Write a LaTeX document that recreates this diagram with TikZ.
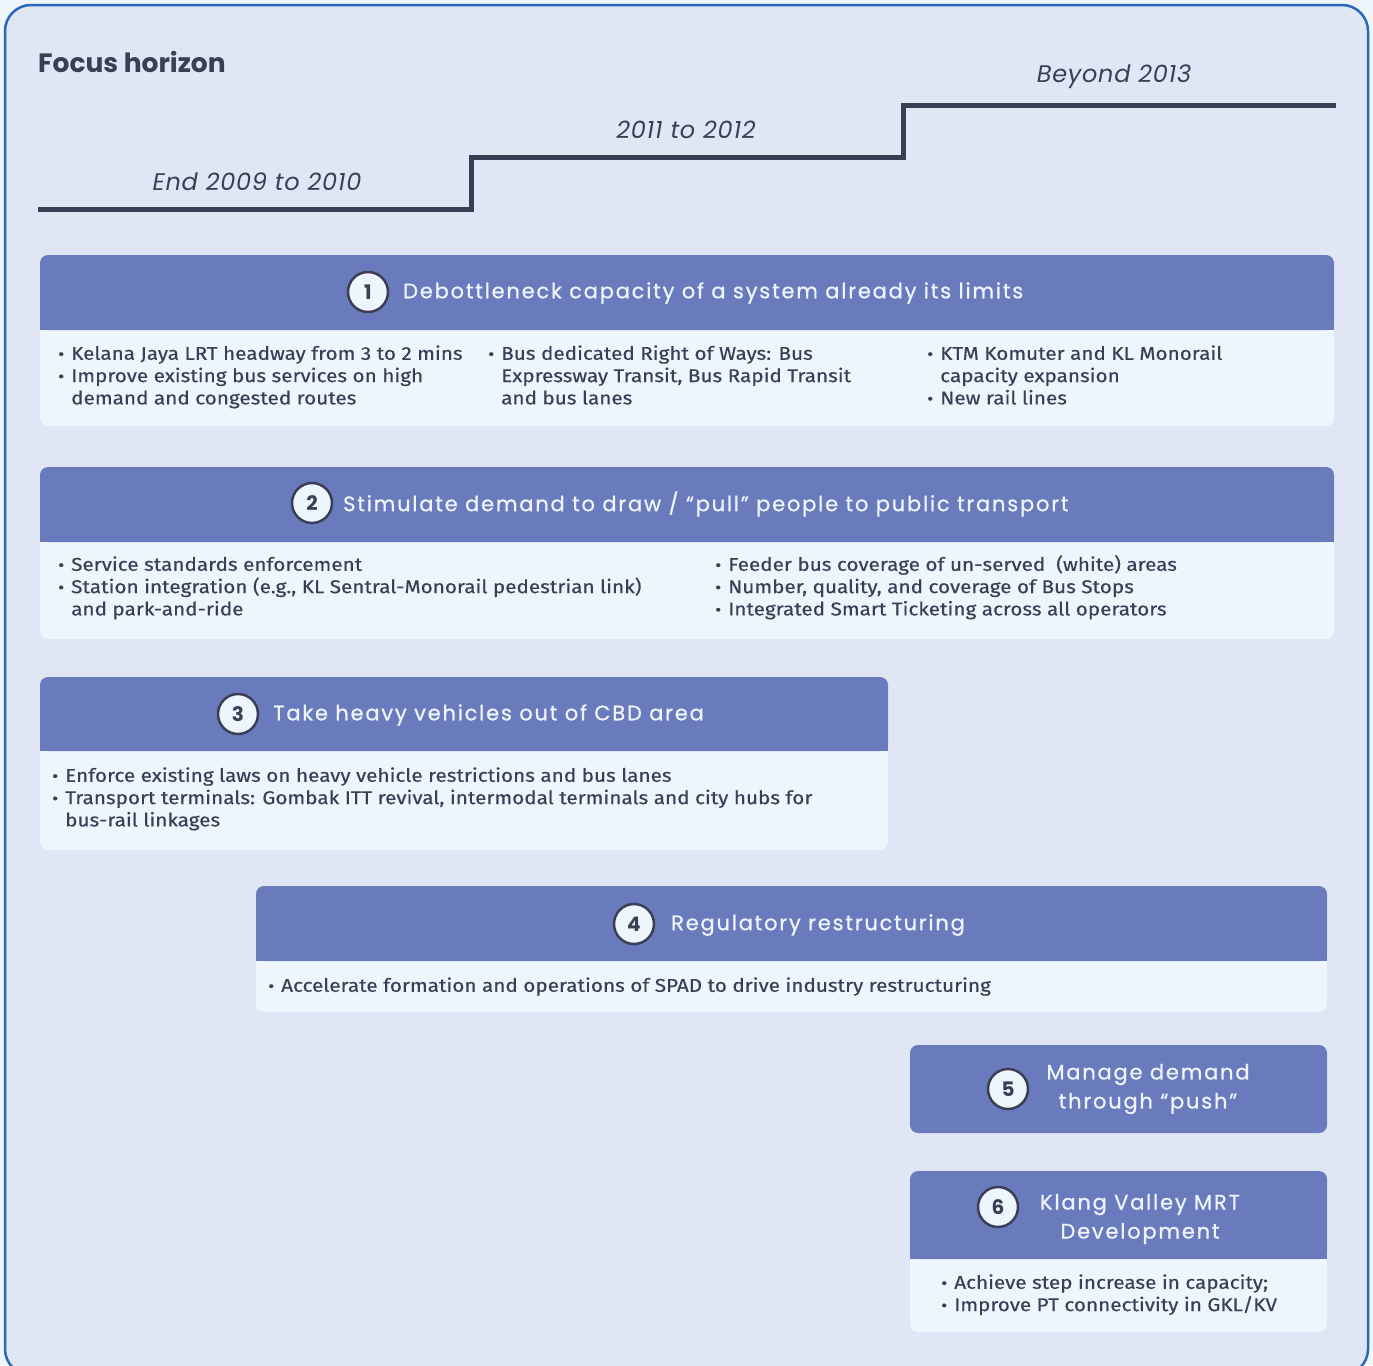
\documentclass[tikz,border=0pt]{standalone}
\usepackage{fontspec}
\setmainfont{Poppins}
\newfontfamily\bodyfont[FakeStretch=1.12, FakeBold=0.4]{Fira Sans}
\newfontfamily\ttlfont[LetterSpace=8.5, FakeBold=0.8]{Poppins}
\newfontfamily\yrfont[LetterSpace=3]{Poppins}

\definecolor{outside}{HTML}{EEF6FC}
\definecolor{framefill}{HTML}{E0E6F4}
\definecolor{framedraw}{HTML}{2D68B8}
\definecolor{hdr}{HTML}{6A7BBD}
\definecolor{bodyc}{HTML}{EDF6FD}
\definecolor{ink}{HTML}{3A3F56}
\definecolor{titletext}{HTML}{EEF4FB}

\tikzset{
  numc/.style={circle, draw=ink, line width=2.5pt, fill=bodyc, minimum size=40pt,
    inner sep=0pt, text=ink, font=\fontsize{20}{20}\selectfont\bfseries},
  ttl/.style={text=titletext, font=\ttlfont\fontsize{21}{29}\selectfont, inner sep=0pt},
  lst/.style={anchor=north west, inner sep=0pt, text=ink,
    font=\bodyfont\fontsize{18.5}{22.3}\selectfont},
  yr/.style={text=ink, font=\yrfont\fontsize{24}{24}\selectfont\itshape, inner sep=0pt},
  stepline/.style={draw=ink, line width=5pt},
}

% bullet cell for the item lists
\newcommand\bul{\makebox[13pt][l]{\scalebox{0.9}{\textbullet}}}

% panel: x1, ytop, x2, yheader, ybottom
\newcommand\panel[5]{%
  \fill[bodyc, rounded corners=8pt] (#1,#2) rectangle (#3,#5);
  \fill[hdr, rounded corners=8pt] (#1,#2) rectangle (#3,#4);
  \fill[hdr] (#1,#4-10) rectangle (#3,#4);
}
\newcommand\hpanel[4]{%
  \fill[hdr, rounded corners=8pt] (#1,#2) rectangle (#3,#4);
}

\begin{document}
\begin{tikzpicture}[x=1pt,y=-1pt]
\useasboundingbox (0,0) rectangle (1373,1365);
\fill[outside] (0,0) rectangle (1373,1365);

% outer frame
\begin{scope}
\clip (0,0) rectangle (1373,1365);
\filldraw[fill=framefill, draw=framedraw, line width=2.5pt, rounded corners=26pt]
  (5,5) rectangle (1368,1375);
\end{scope}

% heading and time steps
\node[anchor=west, inner sep=0pt, text=ink, font=\fontsize{26.5}{26.5}\selectfont\bfseries]
  (focus) at (38,62) {Focus horizon};
\draw[stepline] (38,209) -- (471,209) -- (471,157) -- (903,157) -- (903,105) -- (1336,105);
\node[yr] (yr1) at (257,182) {End 2009 to 2010};
\node[yr] (yr2) at (686,130) {2011 to 2012};
\node[yr] (yr3) at (1114,77) {Beyond 2013};

% panel 1
\panel{40}{255}{1334}{330}{426}
\node[numc] (c1) at (368,292) {1};
\node[ttl, anchor=west] (t1) at (403,293) {Debottleneck capacity of a system already its limits};
\node[lst] (l1a) at (58,344) {\begin{tabular}{@{}l@{}l@{}}
\bul & Kelana Jaya LRT headway from 3 to 2 mins\\
\bul & Improve existing bus services on high\\
 & demand and congested routes\end{tabular}};
\node[lst] (l1b) at (488,344) {\begin{tabular}{@{}l@{}l@{}}
\bul & Bus dedicated Right of Ways: Bus\\
 & Expressway Transit, Bus Rapid Transit\\
 & and bus lanes\end{tabular}};
\node[lst] (l1c) at (927,344) {\begin{tabular}{@{}l@{}l@{}}
\bul & KTM Komuter and KL Monorail\\
 & capacity expansion\\
\bul & New rail lines\end{tabular}};

% panel 2
\panel{40}{467}{1334}{542}{639}
\node[numc] (c2) at (312,503) {2};
\node[ttl, anchor=west] (t2) at (343,504) {Stimulate demand to draw / “pull” people to public transport};
\node[lst] (l2a) at (58,555) {\begin{tabular}{@{}l@{}l@{}}
\bul & Service standards enforcement\\
\bul & Station integration (e.g., KL Sentral-Monorail pedestrian link)\\
 & and park-and-ride\end{tabular}};
\node[lst] (l2b) at (715,555) {\begin{tabular}{@{}l@{}l@{}}
\bul & Feeder bus coverage of un-served\ \ (white) areas\\
\bul & Number, quality, and coverage of Bus Stops\\
\bul & Integrated Smart Ticketing across all operators\end{tabular}};

% panel 3
\panel{40}{677}{888}{751}{850}
\node[numc] (c3) at (238,714) {3};
\node[ttl, anchor=west] (t3) at (273,715) {Take heavy vehicles out of CBD area};
\node[lst] (l3) at (52,766) {\begin{tabular}{@{}l@{}l@{}}
\bul & Enforce existing laws on heavy vehicle restrictions and bus lanes\\
\bul & Transport terminals: Gombak ITT revival, intermodal terminals and city hubs for\\
 & bus-rail linkages\end{tabular}};

% panel 4
\panel{256}{886}{1327}{961}{1012}
\node[numc] (c4) at (634,924) {4};
\node[ttl, anchor=west] (t4) at (671,925) {Regulatory restructuring};
\node[lst] (l4) at (268,976) {\begin{tabular}{@{}l@{}l@{}}
\bul & Accelerate formation and operations of SPAD to drive industry restructuring\end{tabular}};

% panel 5
\hpanel{910}{1045}{1327}{1133}
\node[numc] (c5) at (1008,1089) {5};
\node[ttl, align=center] (t5) at (1148,1089) {Manage demand\\through “push”};

% panel 6
\panel{910}{1171}{1327}{1259}{1332}
\node[numc] (c6) at (998,1207) {6};
\node[ttl, align=center] (t6) at (1140,1219) {Klang Valley MRT\\Development};
\node[lst] (l6) at (941,1273) {\begin{tabular}{@{}l@{}l@{}}
\bul & Achieve step increase in capacity;\\
\bul & Improve PT connectivity in GKL/KV\end{tabular}};
\end{tikzpicture}
\end{document}
